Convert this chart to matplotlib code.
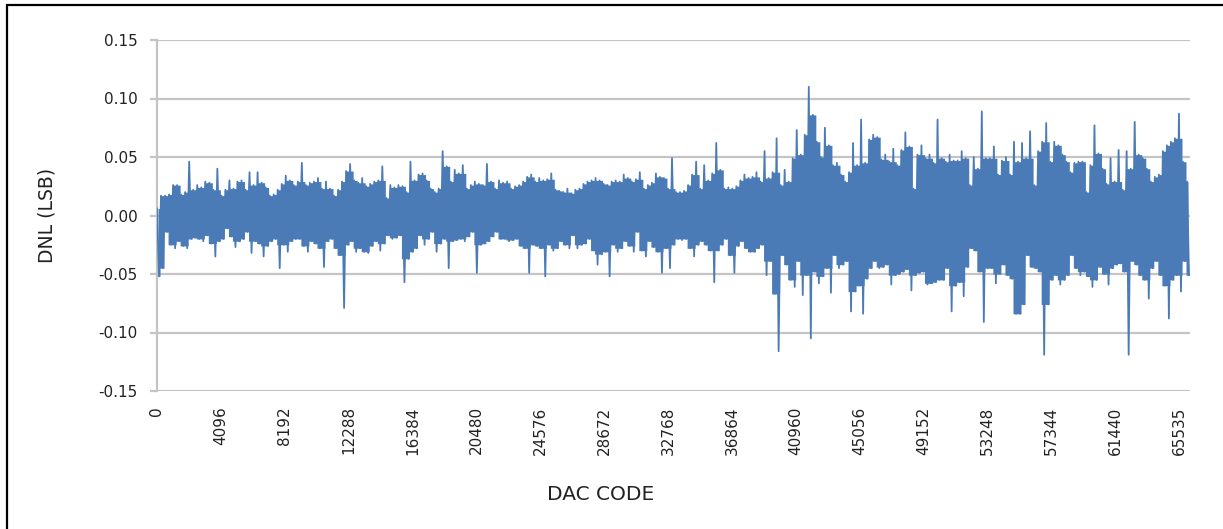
import numpy as np
import matplotlib
matplotlib.use("Agg")
import matplotlib.pyplot as plt
from matplotlib.patches import Rectangle

plt.rcParams['font.family'] = ['DejaVu Sans']

# DNL, in milli-LSB. One slot = SLOT codes,
# each slot holds the local max (hi) and local min (lo) of the trace.
SLOT = 258
dnl_hi = [
    6, 17, 17, 18, 26, 26, 18, 20, 46, 22, 26, 24, 29, 28, 22, 40, 17, 22, 30, 23,
    29, 30, 22, 37, 26, 37, 28, 24, 17, 18, 22, 27, 34, 30, 26, 29, 45, 26, 28, 29,
    32, 23, 29, 23, 17, 22, 29, 38, 44, 30, 28, 32,
    25, 27, 29, 30, 42, 15, 26, 24, 26, 25, 20, 46, 30, 35, 36, 30, 23, 20, 23, 55,
    42, 29, 39, 36, 43, 23, 26, 29, 27, 26, 44, 29, 23, 30, 28, 29, 23, 25, 26, 29,
    33, 35, 29, 32, 30, 31, 36, 22, 21, 20, 23,
    19, 22, 23, 27, 29, 30, 32, 30, 27, 26, 29, 30, 29, 35, 32, 29, 31, 37, 23, 26,
    28, 36, 33, 32, 23, 49, 20, 20, 21, 26, 35, 46, 23, 43, 30, 36, 62, 39, 23, 24,
    23, 25, 30, 35, 32, 33, 37, 29, 55, 32, 37,
    66, 26, 39, 29, 49, 73, 52, 69, 110, 86, 63, 50, 75, 60, 43, 45, 35, 29, 37, 62,
    43, 82, 45, 65, 69, 67, 48, 52, 46, 57, 43, 56, 71, 59, 23, 52, 60, 49, 52, 45,
    82, 49, 46, 52, 47, 47, 55, 49, 26, 50, 40,
    89, 49, 49, 59, 35, 47, 50, 35, 63, 46, 62, 49, 72, 26, 55, 63, 79, 46, 63, 60,
    52, 46, 37, 45, 46, 46, 20, 43, 77, 53, 40, 27, 49, 29, 56, 22, 55, 40, 80, 52,
    49, 40, 29, 33, 35, 55, 60, 63, 66, 87, 46, 29,
]
dnl_lo = [
    -52, -45, -14, -25, -28, -22, -26, -28, -20, -19, -20, -22, -17, -24, -35, -22, -20, -11, -18, -27,
    -22, -20, -14, -32, -22, -24, -35, -26, -22, -20, -45, -25, -31, -22, -20, -20, -26, -31, -22, -24,
    -28, -44, -22, -20, -28, -34, -79, -25, -22, -31, -28, -31,
    -32, -26, -22, -30, -24, -17, -20, -19, -17, -57, -37, -31, -28, -17, -25, -20, -14, -31, -24, -20,
    -45, -22, -21, -20, -22, -18, -14, -49, -25, -24, -22, -18, -14, -20, -20, -22, -21, -20, -26, -28,
    -49, -25, -26, -28, -52, -25, -30, -28, -22, -25, -28,
    -17, -28, -25, -24, -20, -30, -42, -33, -31, -52, -25, -31, -28, -22, -26, -31, -14, -30, -35, -22,
    -27, -31, -49, -28, -45, -25, -20, -21, -20, -28, -35, -25, -22, -25, -30, -57, -30, -25, -20, -34,
    -49, -26, -22, -28, -31, -31, -28, -25, -51, -39, -67,
    -116, -34, -42, -55, -61, -39, -68, -51, -105, -48, -58, -52, -45, -66, -34, -45, -42, -39, -82, -65,
    -60, -84, -54, -45, -39, -45, -44, -42, -59, -51, -50, -48, -46, -64, -51, -49, -48, -59, -58, -57,
    -55, -55, -45, -82, -60, -57, -69, -44, -28, -30, -48,
    -91, -45, -45, -58, -50, -42, -51, -54, -84, -84, -76, -34, -44, -45, -48, -119, -76, -55, -51, -59,
    -55, -51, -34, -45, -51, -48, -52, -61, -55, -44, -50, -59, -45, -42, -41, -48, -119, -39, -42, -51,
    -55, -71, -45, -39, -51, -60, -88, -55, -51, -65, -39, -51,
]

tick_codes = [4096 * i for i in range(16)] + [65536]
tick_labels = [str(4096 * i) for i in range(16)] + ["65535"]
y_ticks = [0.15, 0.10, 0.05, 0.0, -0.05, -0.10, -0.15]
y_labels = ["0.15", "0.10", "0.05", "0.00", "-0.05", "-0.10", "-0.15"]

BLUE = "#4a7bb7"
GRID = "#c4c4c4"
TEXT = "#222222"

n = len(dnl_hi)
k = np.arange(n)
hi = np.array(dnl_hi) / 1000.0
lo = np.array(dnl_lo) / 1000.0

# interleave slot max / min into one trace
x = np.empty(2 * n)
y = np.empty(2 * n)
x[0::2] = k * SLOT
x[1::2] = k * SLOT + SLOT / 2
y[0::2] = hi
y[1::2] = lo

# solid body of the band: a slot sticking out alone is left to the thin trace
hi_pad = np.r_[hi[0], hi, hi[-1]]
lo_pad = np.r_[lo[0], lo, lo[-1]]
body_hi = np.minimum(hi, np.maximum(hi_pad[:-2], hi_pad[2:]))
body_lo = np.maximum(lo, np.minimum(lo_pad[:-2], lo_pad[2:]))

fig = plt.figure(figsize=(12.23, 5.29), dpi=100)
ax = fig.add_axes([157 / 1223, 1 - 391 / 529, (1190 - 157) / 1223, (391 - 40) / 529])

ax.fill_between(k * SLOT + SLOT / 4, body_lo, body_hi, step="mid", color=BLUE, lw=0, zorder=2)
ax.plot(x, y, color=BLUE, lw=1.3, zorder=3)

ax.set_xlim(0, 66240)
ax.set_ylim(-0.15, 0.15)
ax.set_yticks(y_ticks)
ax.set_yticklabels(y_labels)
ax.set_xticks(tick_codes)
ax.set_xticklabels(tick_labels, rotation=90, va="top", ha="center")

for yt in y_ticks:
    ax.axhline(yt, color=GRID, lw=1.6, zorder=1)
for s in ["top", "right", "bottom"]:
    ax.spines[s].set_visible(False)
ax.spines["left"].set_color(GRID)
ax.spines["left"].set_linewidth(1.6)

ax.tick_params(axis="y", length=5, width=1.6, color=GRID, pad=9, labelsize=11, labelcolor=TEXT)
ax.tick_params(axis="x", length=0, pad=11, labelsize=11, labelcolor=TEXT)

fig.text(47 / 1223, 1 - 215 / 529, "DNL (LSB)", rotation=90, ha="center", va="center",
         fontsize=13.5, color=TEXT)
fig.text(601 / 1223, 1 - 495 / 529, "DAC CODE", ha="center", va="center", fontsize=14.5, color=TEXT)

fig.patches.append(Rectangle((7 / 1223, -0.1), 1.2, 1.1 - 5 / 529, transform=fig.transFigure,
                             fill=False, edgecolor="black", lw=1.6))

fig.savefig("out.png", dpi=100)
